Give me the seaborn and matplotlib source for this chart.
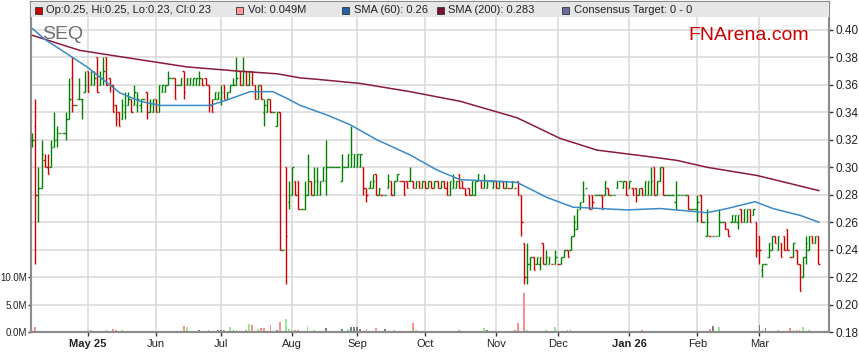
import numpy as np
import pandas as pd
import matplotlib
matplotlib.use("Agg")
import matplotlib.pyplot as plt
import seaborn as sns
from matplotlib.patches import Rectangle
from matplotlib.ticker import FixedLocator

# trading days shown on the chart (weekdays, one bar each)
dates = pd.bdate_range("2025-04-07", "2026-03-27")

# daily OHLC
opens = [
    0.32, 0.33, 0.28, 0.285, 0.305, 0.30, 0.30, 0.315, 0.32, 0.325,
    0.325, 0.325, 0.335, 0.365, 0.345, 0.35, 0.35, 0.355, 0.37, 0.36,
    0.36, 0.38, 0.36, 0.365, 0.38, 0.365, 0.36, 0.345, 0.34, 0.335,
    0.34, 0.345, 0.35, 0.345, 0.345, 0.345, 0.35, 0.355, 0.34, 0.34,
    0.35, 0.34, 0.355, 0.355, 0.36, 0.365, 0.365, 0.36, 0.36, 0.37,
    0.36, 0.36, 0.36, 0.36, 0.36, 0.365, 0.365, 0.36, 0.345, 0.35,
    0.35, 0.35, 0.36, 0.35, 0.355, 0.36, 0.36, 0.37, 0.36, 0.37,
    0.36, 0.37, 0.36, 0.35, 0.36, 0.34, 0.34, 0.35, 0.34, 0.33,
    0.34, 0.24, 0.30, 0.275, 0.28, 0.29, 0.29, 0.27, 0.27, 0.28,
    0.29, 0.28, 0.28, 0.28, 0.29, 0.29, 0.30, 0.30, 0.30, 0.30,
    0.29, 0.30, 0.30, 0.30, 0.30, 0.30, 0.30, 0.30, 0.285, 0.285,
    0.285, 0.295, 0.28, 0.28, 0.28, 0.285, 0.29, 0.28, 0.29, 0.29,
    0.29, 0.29, 0.29, 0.29, 0.285, 0.29, 0.285, 0.29, 0.285, 0.29,
    0.285, 0.29, 0.285, 0.29, 0.285, 0.28, 0.285, 0.285, 0.295, 0.29,
    0.285, 0.285, 0.28, 0.28, 0.29, 0.29, 0.285, 0.285, 0.29, 0.285,
    0.29, 0.285, 0.29, 0.285, 0.285, 0.285, 0.285, 0.29, 0.28, 0.245,
    0.22, 0.23, 0.235, 0.23, 0.23, 0.245, 0.23, 0.23, 0.23, 0.23,
    0.23, 0.23, 0.235, 0.24, 0.24, 0.25, 0.255, 0.27, 0.275, 0.285,
    0.28, 0.28, 0.28, 0.28, 0.28, 0.28, 0.285, 0.28, 0.28, 0.285,
    0.29, 0.285, 0.29, 0.285, 0.285, 0.285, 0.28, 0.285, 0.28, 0.28,
    0.28, 0.30, 0.28, 0.29, 0.30, 0.28, 0.28, 0.28, 0.275, 0.28,
    0.28, 0.28, 0.28, 0.27, 0.27, 0.27, 0.28, 0.26, 0.25, 0.25,
    0.25, 0.25, 0.25, 0.26, 0.26, 0.255, 0.26, 0.26, 0.26, 0.27,
    0.26, 0.26, 0.27, 0.265, 0.26, 0.25, 0.225, 0.23, 0.235, 0.24,
    0.25, 0.24, 0.245, 0.25, 0.255, 0.235, 0.235, 0.24, 0.23, 0.22,
    0.235, 0.24, 0.25, 0.245, 0.25,
]
highs = [
    0.325, 0.35, 0.30, 0.32, 0.31, 0.31, 0.32, 0.34, 0.33, 0.325,
    0.325, 0.34, 0.365, 0.38, 0.345, 0.365, 0.35, 0.37, 0.37, 0.37,
    0.37, 0.38, 0.37, 0.38, 0.38, 0.365, 0.36, 0.345, 0.34, 0.35,
    0.355, 0.355, 0.35, 0.36, 0.355, 0.35, 0.35, 0.355, 0.35, 0.35,
    0.35, 0.36, 0.36, 0.36, 0.37, 0.365, 0.365, 0.36, 0.365, 0.37,
    0.365, 0.365, 0.365, 0.365, 0.37, 0.365, 0.365, 0.36, 0.35, 0.355,
    0.355, 0.36, 0.36, 0.355, 0.36, 0.365, 0.38, 0.37, 0.38, 0.37,
    0.37, 0.37, 0.36, 0.36, 0.36, 0.35, 0.35, 0.35, 0.34, 0.34,
    0.34, 0.24, 0.30, 0.29, 0.30, 0.29, 0.29, 0.27, 0.29, 0.31,
    0.29, 0.30, 0.30, 0.29, 0.30, 0.32, 0.30, 0.30, 0.30, 0.30,
    0.31, 0.30, 0.31, 0.33, 0.31, 0.31, 0.31, 0.30, 0.285, 0.29,
    0.295, 0.295, 0.285, 0.28, 0.28, 0.295, 0.29, 0.29, 0.295, 0.29,
    0.29, 0.29, 0.30, 0.29, 0.29, 0.29, 0.29, 0.29, 0.29, 0.29,
    0.29, 0.29, 0.29, 0.29, 0.29, 0.29, 0.295, 0.29, 0.295, 0.29,
    0.285, 0.285, 0.29, 0.29, 0.295, 0.29, 0.295, 0.29, 0.29, 0.29,
    0.29, 0.29, 0.29, 0.29, 0.285, 0.29, 0.285, 0.29, 0.28, 0.245,
    0.245, 0.235, 0.235, 0.235, 0.235, 0.245, 0.24, 0.235, 0.23, 0.24,
    0.23, 0.235, 0.24, 0.24, 0.25, 0.265, 0.27, 0.275, 0.29, 0.285,
    0.28, 0.28, 0.28, 0.28, 0.28, 0.29, 0.285, 0.28, 0.28, 0.29,
    0.29, 0.29, 0.29, 0.29, 0.285, 0.285, 0.285, 0.285, 0.29, 0.29,
    0.30, 0.30, 0.29, 0.30, 0.30, 0.28, 0.28, 0.28, 0.29, 0.28,
    0.28, 0.28, 0.28, 0.27, 0.27, 0.28, 0.28, 0.26, 0.27, 0.25,
    0.25, 0.25, 0.27, 0.26, 0.26, 0.255, 0.265, 0.265, 0.265, 0.27,
    0.27, 0.27, 0.27, 0.27, 0.26, 0.25, 0.23, 0.23, 0.245, 0.25,
    0.25, 0.25, 0.245, 0.25, 0.255, 0.235, 0.245, 0.24, 0.23, 0.235,
    0.25, 0.25, 0.25, 0.25, 0.25,
]
lows = [
    0.315, 0.23, 0.26, 0.285, 0.30, 0.295, 0.30, 0.315, 0.315, 0.325,
    0.325, 0.32, 0.335, 0.34, 0.345, 0.35, 0.335, 0.355, 0.355, 0.36,
    0.36, 0.355, 0.36, 0.36, 0.36, 0.355, 0.34, 0.33, 0.33, 0.335,
    0.335, 0.345, 0.34, 0.345, 0.34, 0.34, 0.35, 0.335, 0.34, 0.34,
    0.34, 0.34, 0.355, 0.355, 0.36, 0.365, 0.35, 0.36, 0.36, 0.35,
    0.36, 0.36, 0.36, 0.36, 0.36, 0.36, 0.36, 0.34, 0.34, 0.35,
    0.35, 0.345, 0.35, 0.35, 0.355, 0.36, 0.36, 0.36, 0.36, 0.36,
    0.36, 0.36, 0.35, 0.35, 0.35, 0.33, 0.34, 0.34, 0.34, 0.33,
    0.24, 0.24, 0.215, 0.27, 0.28, 0.28, 0.27, 0.27, 0.27, 0.28,
    0.28, 0.28, 0.28, 0.28, 0.29, 0.28, 0.30, 0.30, 0.30, 0.30,
    0.29, 0.30, 0.30, 0.30, 0.30, 0.30, 0.30, 0.28, 0.275, 0.285,
    0.285, 0.28, 0.28, 0.28, 0.28, 0.285, 0.28, 0.28, 0.29, 0.29,
    0.28, 0.285, 0.29, 0.285, 0.285, 0.285, 0.285, 0.285, 0.285, 0.285,
    0.285, 0.285, 0.285, 0.285, 0.28, 0.28, 0.285, 0.285, 0.285, 0.285,
    0.28, 0.28, 0.28, 0.28, 0.29, 0.285, 0.285, 0.285, 0.29, 0.285,
    0.285, 0.285, 0.285, 0.285, 0.285, 0.285, 0.285, 0.28, 0.25, 0.215,
    0.215, 0.225, 0.225, 0.23, 0.225, 0.23, 0.23, 0.23, 0.23, 0.23,
    0.23, 0.23, 0.235, 0.235, 0.24, 0.25, 0.255, 0.27, 0.275, 0.285,
    0.27, 0.27, 0.28, 0.28, 0.27, 0.28, 0.28, 0.28, 0.28, 0.285,
    0.29, 0.285, 0.28, 0.285, 0.28, 0.275, 0.28, 0.28, 0.28, 0.28,
    0.28, 0.28, 0.28, 0.29, 0.28, 0.28, 0.28, 0.28, 0.27, 0.28,
    0.28, 0.28, 0.27, 0.27, 0.27, 0.26, 0.26, 0.26, 0.25, 0.25,
    0.25, 0.25, 0.25, 0.26, 0.255, 0.25, 0.26, 0.26, 0.255, 0.26,
    0.26, 0.26, 0.26, 0.265, 0.235, 0.23, 0.22, 0.23, 0.235, 0.24,
    0.245, 0.24, 0.235, 0.24, 0.24, 0.235, 0.235, 0.23, 0.21, 0.22,
    0.23, 0.24, 0.245, 0.245, 0.23,
]
closes = [
    0.32, 0.28, 0.285, 0.31, 0.30, 0.295, 0.315, 0.32, 0.325, 0.325,
    0.325, 0.335, 0.35, 0.345, 0.345, 0.35, 0.35, 0.36, 0.355, 0.37,
    0.365, 0.355, 0.365, 0.37, 0.36, 0.36, 0.34, 0.335, 0.33, 0.345,
    0.345, 0.35, 0.34, 0.355, 0.35, 0.35, 0.35, 0.34, 0.345, 0.35,
    0.34, 0.36, 0.36, 0.36, 0.365, 0.365, 0.35, 0.36, 0.365, 0.355,
    0.365, 0.365, 0.365, 0.365, 0.365, 0.36, 0.36, 0.345, 0.34, 0.355,
    0.355, 0.355, 0.35, 0.355, 0.36, 0.36, 0.365, 0.36, 0.37, 0.36,
    0.37, 0.36, 0.35, 0.36, 0.35, 0.345, 0.35, 0.34, 0.34, 0.34,
    0.24, 0.24, 0.25, 0.28, 0.30, 0.28, 0.27, 0.27, 0.28, 0.29,
    0.28, 0.29, 0.29, 0.29, 0.30, 0.30, 0.30, 0.30, 0.30, 0.30,
    0.30, 0.30, 0.31, 0.31, 0.31, 0.31, 0.31, 0.285, 0.28, 0.29,
    0.29, 0.28, 0.285, 0.28, 0.28, 0.29, 0.28, 0.29, 0.295, 0.29,
    0.28, 0.285, 0.29, 0.285, 0.29, 0.285, 0.29, 0.285, 0.29, 0.285,
    0.29, 0.285, 0.29, 0.285, 0.28, 0.29, 0.29, 0.29, 0.285, 0.285,
    0.28, 0.28, 0.29, 0.29, 0.295, 0.285, 0.29, 0.29, 0.29, 0.29,
    0.285, 0.29, 0.285, 0.29, 0.285, 0.29, 0.285, 0.28, 0.26, 0.22,
    0.23, 0.235, 0.225, 0.235, 0.235, 0.23, 0.235, 0.235, 0.23, 0.235,
    0.23, 0.235, 0.24, 0.235, 0.25, 0.26, 0.27, 0.275, 0.28, 0.285,
    0.27, 0.275, 0.28, 0.28, 0.27, 0.29, 0.28, 0.28, 0.28, 0.29,
    0.29, 0.29, 0.28, 0.29, 0.28, 0.28, 0.285, 0.28, 0.29, 0.29,
    0.29, 0.28, 0.29, 0.30, 0.28, 0.28, 0.28, 0.28, 0.28, 0.28,
    0.28, 0.28, 0.27, 0.27, 0.27, 0.275, 0.26, 0.26, 0.26, 0.25,
    0.25, 0.25, 0.26, 0.26, 0.255, 0.25, 0.265, 0.265, 0.265, 0.26,
    0.27, 0.27, 0.26, 0.27, 0.24, 0.24, 0.23, 0.23, 0.245, 0.25,
    0.245, 0.25, 0.235, 0.24, 0.24, 0.235, 0.245, 0.23, 0.21, 0.235,
    0.245, 0.25, 0.245, 0.25, 0.23,
]

# daily volume in millions (days not listed traded next to nothing)
vol_days = [
    1, 2, 3, 6, 11, 13, 19, 20, 21, 23,
    24, 26, 27, 29, 32, 33, 38, 39, 41, 42,
    44, 46, 49, 50, 54, 55, 56, 57, 59, 60,
    61, 62, 63, 64, 65, 66, 67, 68, 69, 70,
    71, 73, 74, 75, 76, 77, 78, 79, 80, 82,
    83, 84, 85, 86, 89, 90, 91, 92, 93, 95,
    100, 102, 103, 104, 105, 106, 107, 108, 111, 112,
    114, 115, 117, 118, 119, 120, 123, 124, 125, 127,
    128, 129, 130, 134, 135, 136, 138, 139, 140, 141,
    143, 144, 145, 146, 147, 152, 156, 157, 159, 160,
    161, 165, 166, 169, 170, 172, 173, 174, 176, 178,
    181, 182, 197, 200, 201, 202, 205, 206, 208, 214,
    215, 217, 219, 220, 222, 228, 230, 234, 235, 236,
    237, 240, 241, 245, 246, 247, 248, 249, 251, 254,
]
vol_m = [
    1.0, 0.24, 0.24, 0.18, 0.18, 0.24, 0.42, 0.24, 0.24, 0.18,
    0.42, 0.6, 0.42, 0.36, 0.18, 0.18, 0.18, 0.18, 0.18, 0.18,
    0.18, 0.18, 1.14, 0.96, 0.36, 0.24, 0.24, 0.36, 0.18, 0.36,
    0.42, 0.48, 0.24, 0.96, 0.42, 0.42, 0.24, 0.24, 0.42, 1.5,
    1.33, 0.6, 0.78, 0.78, 0.42, 1.33, 0.24, 0.42, 1.87, 2.4,
    0.6, 0.42, 0.42, 0.42, 1.14, 0.24, 0.42, 0.24, 0.18, 0.78,
    0.6, 0.6, 0.96, 0.96, 0.96, 0.6, 0.24, 0.6, 0.78, 0.18,
    0.6, 0.24, 0.42, 0.24, 0.24, 0.24, 1.69, 0.42, 0.24, 0.24,
    0.24, 0.24, 0.24, 0.24, 0.24, 0.18, 0.42, 0.24, 0.24, 0.24,
    0.24, 0.24, 0.24, 0.78, 0.42, 0.24, 0.42, 1.69, 7.2, 0.42,
    0.24, 0.24, 0.42, 0.96, 0.24, 0.24, 0.42, 0.6, 0.24, 0.24,
    0.24, 0.24, 0.42, 0.24, 0.24, 0.24, 0.24, 0.24, 0.24, 0.24,
    0.24, 0.24, 0.6, 1.14, 0.96, 0.18, 0.24, 0.24, 1.33, 0.42,
    0.78, 0.24, 0.42, 0.78, 0.42, 0.42, 0.42, 0.96, 0.42, 0.049,
]

# moving averages (bar position, value)
sma60_pos = [0, 4.1, 17.7, 28.4, 34.9, 41.3, 57.5, 63, 70.4, 77.8, 82.4, 86.6, 95.3,
             102.7, 111.4, 122.1, 130.8, 138.3, 148.9, 156.7, 166.4, 174.8, 192.2,
             202.9, 218.1, 224.6, 233.6, 239.4, 248.2, 254.3]
sma60_vals = [0.401, 0.393, 0.373, 0.354, 0.348, 0.345, 0.345, 0.349, 0.355, 0.355,
              0.350, 0.345, 0.338, 0.331, 0.320, 0.309, 0.298, 0.291, 0.290, 0.289,
              0.278, 0.271, 0.269, 0.270, 0.267, 0.270, 0.275, 0.270, 0.265, 0.260]
sma200_pos = [0, 15.4, 32.6, 50, 66.2, 79.1, 86.6, 92, 105.9, 122.1, 138.3, 156.7,
              170.6, 182.5, 201.9, 208.4, 218.1, 234.3, 254.3]
sma200_vals = [0.396, 0.385, 0.379, 0.373, 0.370, 0.368, 0.365, 0.364, 0.361, 0.355,
               0.348, 0.336, 0.321, 0.3125, 0.307, 0.305, 0.300, 0.294, 0.283]

legend_items = ["Op:0.25, Hi:0.25, Lo:0.23, Cl:0.23", "Vol: 0.049M", "SMA (60): 0.26",
                "SMA (200): 0.283", "Consensus Target: 0 - 0"]

sns.set_theme(style="white")
plt.rcParams['font.family'] = ['Liberation Sans', 'DejaVu Sans']

o = np.array(opens)
h = np.array(highs)
l = np.array(lows)
c = np.array(closes)
n = len(dates)
x = np.arange(n)

vol = np.zeros(n)
vol[vol_days] = vol_m

prev = np.r_[c[0], c[:-1]]
up = (c > o) | ((c == o) & (c >= prev))
bar_colors = np.where(up, '#008000', '#D00000')
vol_colors = np.where(c > prev, '#90EE90', np.where(c < prev, '#FF8F8F', '#7F7F7F'))

# month ticks at the first trading day of each month (skip the partial first month)
s = pd.Series(x, index=dates)
firsts = s.groupby([dates.year, dates.month]).first().iloc[1:]
month_pos = list(firsts.values)
month_labels = []
for k, (yr, mo) in enumerate(firsts.index):
    name = pd.Timestamp(year=yr, month=mo, day=1).strftime('%b')
    if k == 0 or mo == 1:
        name += ' ' + str(yr)[2:]
    month_labels.append(name)

W, H = 859, 363
fig = plt.figure(figsize=(W / 100, H / 100), dpi=100)
ax = fig.add_axes([31 / W, 30.7 / H, 798 / W, 330.3 / H])
ax.set_facecolor('white')

# volume on the left axis
ax.bar(x, vol, width=0.55, color=vol_colors, zorder=2, linewidth=0)
ax.set_xlim(-0.4, 257.5)
ax.set_ylim(0, 60.05)
ax.yaxis.set_major_locator(FixedLocator([0, 5, 10]))
ax.yaxis.set_minor_locator(FixedLocator(list(range(15, 60, 5))))
ax.set_yticklabels(['0.0M', '5.0M', '10.0M'])
ax.tick_params(axis='y', which='major', left=True, length=2.5, width=1, color='#333333',
               labelsize=7, pad=0.5, labelcolor='#222222')
ax.tick_params(axis='y', which='minor', left=False, length=0)
ax.set_xticks(month_pos)
ax.set_xticklabels(month_labels)
ax.tick_params(axis='x', bottom=True, length=3, width=1, color='#333333', labelsize=8,
               pad=2, labelcolor='#222222')
for lab in ax.get_xticklabels():
    if ' ' in lab.get_text():
        lab.set_fontweight('bold')
ax.grid(True, which='both', axis='y', color='#D9D9D9', lw=1.1)
ax.grid(True, which='major', axis='x', color='#D9D9D9', lw=1.1)
ax.set_axisbelow(True)

# price on the right axis
ax2 = ax.twinx()
ax2.set_ylim(0.18, 0.4202)
price_ticks = [0.18, 0.20, 0.22, 0.24, 0.26, 0.28, 0.30, 0.32, 0.34, 0.36, 0.38, 0.40]
ax2.set_yticks(price_ticks)
ax2.set_yticklabels([f"{v:.2f}" for v in price_ticks])
ax2.tick_params(axis='y', right=True, length=3, width=1, color='#333333', labelsize=8.5,
                pad=1.5, labelcolor='#222222')

ax2.vlines(x, l, h, colors=bar_colors, lw=1.0, zorder=3)
ax2.hlines(o, x - 0.45, x, colors=bar_colors, lw=1.0, zorder=3)
ax2.hlines(c, x, x + 0.45, colors=bar_colors, lw=1.0, zorder=3)

sns.lineplot(x=sma200_pos, y=sma200_vals, ax=ax2, color='#8B1A40', lw=1.1, zorder=4)
sns.lineplot(x=sma60_pos, y=sma60_vals, ax=ax2, color='#3A8AC8', lw=1.1, zorder=4)
ax2.set_xlabel('')
ax2.set_ylabel('')
ax2.set_xlim(-0.4, 257.5)

# legend strip across the top of the plot
ax2.add_patch(Rectangle((0, (332.3 - 17) / 330.3), 1, 1 - (332.3 - 17) / 330.3,
                        transform=ax2.transAxes, facecolor='#E6E6E6', edgecolor='none',
                        zorder=6, clip_on=False))

for a in (ax, ax2):
    for sp in a.spines.values():
        sp.set_color('#8C8C8C')
        sp.set_linewidth(1.5)

sq_colors = ['#CC0000', '#FF9999', '#1F64A8', '#7A1030', '#6C6C9C']
sq_x = [35, 236, 342, 437, 562]
for px, col, txt in zip(sq_x, sq_colors, legend_items):
    fig.add_artist(Rectangle((px / W, 1 - 13.5 / H), 6.5 / W, 6.5 / H, transform=fig.transFigure,
                             facecolor=col, edgecolor='#333333', lw=0.6, zorder=7))
    fig.text((px + 11.5) / W, 1 - 10.3 / H, txt, fontsize=8, color='#222222',
             va='center', ha='left', zorder=8)

fig.text(42 / W, 1 - 39.3 / H, "SEQ", fontsize=14, color='#707070', va='baseline', ha='left')
fig.text(688 / W, 1 - 40 / H, "FNArena.com", fontsize=14, color='#CC0000', va='baseline', ha='left')

fig.savefig("out.png", dpi=100)
